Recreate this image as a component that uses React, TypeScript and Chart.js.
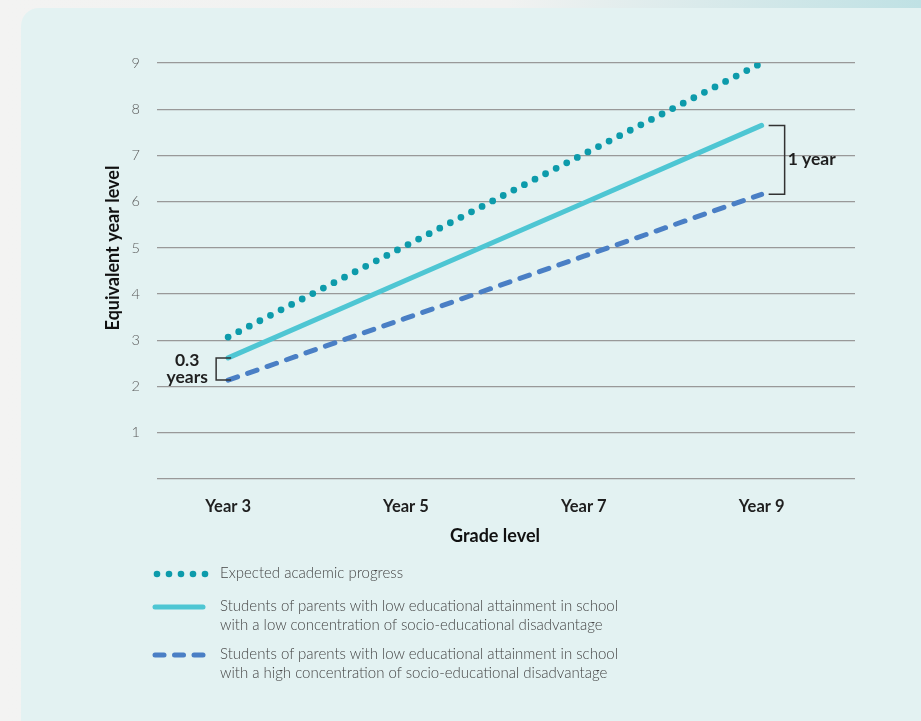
import React, { useEffect, useRef } from "react";
import { Chart, registerables } from "chart.js";

Chart.register(...registerables);

const grades = [3, 5, 7, 9];
const gradeLabelPrefix = "Year ";
const expectedProgress = [3.07, 5.05, 7.03, 9.0];
const lowConcentration = [2.62, 4.3, 5.97, 7.65];
const highConcentration = [2.14, 3.48, 4.82, 6.16];
const yTicks = [0, 1, 2, 3, 4, 5, 6, 7, 8, 9];
const startGapLabel = ["0.3", "years"];
const endGapLabel = "1 year";
const yTitle = "Equivalent year level";
const xTitle = "Grade level";
const seriesNames = [
  ["Expected academic progress"],
  [
    "Students of parents with low educational attainment in school",
    "with a low concentration of socio-educational disadvantage",
  ],
  [
    "Students of parents with low educational attainment in school",
    "with a high concentration of socio-educational disadvantage",
  ],
];

const C_EXPECTED = "#0d9bab";
const C_LOW = "#4ec6d3";
const C_HIGH = "#4a7fc5";
const FONT = "Lato, 'Open Sans', sans-serif";

const annotPlugin = {
  id: "annot",
  afterDraw(chart: any) {
    const ctx = chart.ctx;
    const xs = chart.scales.x;
    const ys = chart.scales.y;
    const ca = chart.chartArea;
    ctx.save();
    ctx.strokeStyle = "#333";
    ctx.lineWidth = 1.5;
    ctx.fillStyle = "#1f1f1f";
    ctx.font = `bold 17.5px ${FONT}`;
    // left bracket
    const x0 = xs.getPixelForValue(grades[0]);
    const yA = ys.getPixelForValue(lowConcentration[0]);
    const yB = ys.getPixelForValue(highConcentration[0]);
    ctx.beginPath();
    ctx.moveTo(x0 + 3, yA);
    ctx.lineTo(x0 - 12, yA);
    ctx.lineTo(x0 - 12, yB);
    ctx.lineTo(x0 + 3, yB);
    ctx.stroke();
    ctx.textAlign = "center";
    ctx.textBaseline = "middle";
    const mid0 = (yA + yB) / 2;
    ctx.fillText(startGapLabel[0], x0 - 41, mid0 - 9);
    ctx.fillText(startGapLabel[1], x0 - 41, mid0 + 8);
    // right bracket
    const x9 = xs.getPixelForValue(grades[3]);
    const yC = ys.getPixelForValue(lowConcentration[3]);
    const yD = ys.getPixelForValue(highConcentration[3]);
    ctx.beginPath();
    ctx.moveTo(x9 + 7, yC);
    ctx.lineTo(x9 + 23, yC);
    ctx.lineTo(x9 + 23, yD);
    ctx.lineTo(x9 + 7, yD);
    ctx.stroke();
    ctx.textAlign = "left";
    ctx.fillText(endGapLabel, x9 + 26, (yC + yD) / 2);
    // axis titles
    ctx.fillStyle = "#111";
    ctx.font = `bold 18px ${FONT}`;
    ctx.save();
    ctx.translate(113, (ca.top + ca.bottom) / 2 - 23);
    ctx.rotate(-Math.PI / 2);
    ctx.textAlign = "center";
    ctx.fillText(yTitle, 0, 0);
    ctx.restore();
    ctx.textAlign = "center";
    ctx.fillText(xTitle, (ca.left + ca.right) / 2 - 11, ca.bottom + 57);
    ctx.restore();
  },
};

function ChartView() {
  const ref = useRef<HTMLCanvasElement | null>(null);
  useEffect(() => {
    if (!ref.current) return;
    const mk = (vals: number[]) => grades.map((g, i) => ({ x: g, y: vals[i] }));
    const chart = new Chart(ref.current, {
      type: "line",
      data: {
        datasets: [
          {
            label: seriesNames[0].join(" "),
            data: mk(expectedProgress),
            borderColor: C_EXPECTED,
            borderWidth: 6.8,
            borderDash: [0, 11.9],
            borderCapStyle: "round",
            pointRadius: 0,
          },
          {
            label: seriesNames[1].join(" "),
            data: mk(lowConcentration),
            borderColor: C_LOW,
            borderWidth: 5,
            borderCapStyle: "round",
            pointRadius: 0,
          },
          {
            label: seriesNames[2].join(" "),
            data: mk(highConcentration),
            borderColor: C_HIGH,
            borderWidth: 5,
            borderDash: [10, 10.6],
            borderCapStyle: "round",
            pointRadius: 0,
          },
        ] as any,
      },
      options: {
        animation: false,
        responsive: false,
        maintainAspectRatio: false,
        layout: { padding: { left: 0, right: 66, top: 63, bottom: 0 } },
        plugins: { legend: { display: false }, tooltip: { enabled: false } },
        scales: {
          x: {
            type: "linear",
            min: 2.2,
            max: 10.05,
            afterBuildTicks: (s: any) => {
              s.ticks = grades.map((g) => ({ value: g }));
            },
            afterFit: (s: any) => {
              s.height = 111;
            },
            grid: { display: false },
            border: { display: false },
            ticks: {
              padding: 10,
              color: "#1f1f1f",
              font: { family: FONT, size: 16.5, weight: "bold" },
              callback: (v: any) => gradeLabelPrefix + v,
            },
          },
          y: {
            min: 0,
            max: 9,
            afterBuildTicks: (s: any) => {
              s.ticks = yTicks.map((v) => ({ value: v }));
            },
            afterFit: (s: any) => {
              s.width = 157;
            },
            border: { display: false },
            grid: { color: "#999", lineWidth: 1.3, drawTicks: false },
            ticks: {
              padding: 17,
              color: "#5a5a5a",
              font: { family: FONT, size: 14.5, weight: "300" },
              callback: (v: any) => (v === 0 ? "" : String(v)),
            },
          },
        },
      } as any,
      plugins: [annotPlugin],
    });
    return () => chart.destroy();
  }, []);
  return (
    <canvas
      ref={ref}
      width={921}
      height={590}
      style={{ position: "absolute", left: 0, top: 0, width: 921, height: 590 }}
    />
  );
}

function Sample({ kind }: { kind: number }) {
  if (kind === 0) {
    return (
      <svg width={60} height={12} style={{ display: "block" }}>
        {[0, 1, 2, 3, 4].map((i) => (
          <circle key={i} cx={5 + i * 12} cy={6} r={3.3} fill={C_EXPECTED} />
        ))}
      </svg>
    );
  }
  if (kind === 1) {
    return (
      <svg width={60} height={12} style={{ display: "block" }}>
        <line x1={3} y1={6} x2={51} y2={6} stroke={C_LOW} strokeWidth={5} strokeLinecap="round" />
      </svg>
    );
  }
  return (
    <svg width={60} height={12} style={{ display: "block" }}>
      {[0, 1, 2].map((i) => (
        <line
          key={i}
          x1={3 + i * 19.5}
          y1={6}
          x2={12 + i * 19.5}
          y2={6}
          stroke={C_HIGH}
          strokeWidth={5}
          strokeLinecap="round"
        />
      ))}
    </svg>
  );
}

export default function App() {
  const rowTops = [563, 596, 644];
  return (
    <div
      style={{
        position: "fixed",
        inset: 0,
        overflow: "hidden",
        background: "linear-gradient(to right, #f3f3f2 0%, #f1f2f1 55%, #bfe1e4 100%)",
      }}
    >
      <div
        style={{
          position: "absolute",
          left: 21,
          top: 8,
          width: 940,
          height: 760,
          borderRadius: 18,
          background: "#e3f2f2",
        }}
      />
      <ChartView />
      {seriesNames.map((lines, i) => (
        <div key={i} style={{ position: "absolute", left: 152, top: rowTops[i] }}>
          <div style={{ position: "absolute", left: 0, top: 5 }}>
            <Sample kind={i} />
          </div>
          <div
            style={{
              position: "absolute",
              left: 68,
              top: 0,
              whiteSpace: "nowrap",
              fontFamily: FONT,
              fontSize: 15,
              fontWeight: 300,
              lineHeight: "19px",
              color: "#454545",
            }}
          >
            {lines.map((l, j) => (
              <div key={j}>{l}</div>
            ))}
          </div>
        </div>
      ))}
    </div>
  );
}
